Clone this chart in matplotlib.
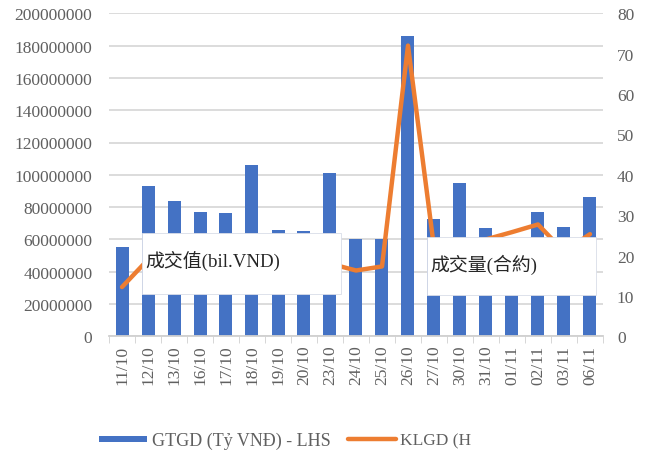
import matplotlib
matplotlib.use("Agg")
import matplotlib.pyplot as plt
from matplotlib.patches import Rectangle
from matplotlib.lines import Line2D
from matplotlib.ticker import FixedLocator

dates = ["11/10", "12/10", "13/10", "16/10", "17/10", "18/10", "19/10", "20/10",
         "23/10", "24/10", "25/10", "26/10", "27/10", "30/10", "31/10", "01/11",
         "02/11", "03/11", "06/11"]
gtgd = [55e6, 93e6, 84e6, 77e6, 76.3e6, 106e6, 66e6, 65e6, 101e6, 60e6,
        60.5e6, 186e6, 72.6e6, 95e6, 67e6, 55e6, 77.2e6, 67.5e6, 86e6]
klgd = [12.2, 19, 20, 19, 18, 21, 19, 17, 18, 16.3, 17.3, 72, 22, 22, 24,
        25.8, 27.7, 21, 25.3]

blue = "#4472C4"
orange = "#ED7D31"
grey = "#606060"
serif = ["Liberation Serif", "Noto Sans CJK TC", "DejaVu Sans"]

plt.rcParams["font.family"] = serif

W, H = 646, 456
fig = plt.figure(figsize=(W / 100, H / 100), dpi=100)
ax = fig.add_axes([109 / W, 1 - 337.3 / H, 494 / W, 323 / H])
ax2 = ax.twinx()

x = list(range(len(dates)))
ax.bar(x, gtgd, width=0.5, color=blue, zorder=2)
ax.set_ylim(0, 200e6)
ax.set_yticks(range(0, 200000001, 20000000))
ax.set_yticklabels([str(v) for v in range(0, 200000001, 20000000)])
ax.set_xlim(-0.5, len(dates) - 0.5)
ax.set_xticks(x)
ax.set_xticklabels(dates, rotation=90)
ax.xaxis.set_minor_locator(FixedLocator([i - 0.5 for i in range(len(dates) + 1)]))
ax.tick_params(axis="x", which="major", length=0, pad=6, labelsize=12.5, labelcolor=grey)
ax.tick_params(axis="x", which="minor", length=5, color="#d0d0d0")
ax.tick_params(axis="y", length=0, pad=12, labelsize=12.5, labelcolor=grey)
ax.grid(axis="y", color="#d9d9d9", linewidth=1.3, zorder=0)
ax.set_axisbelow(True)
for s in ["top", "right", "left"]:
    ax.spines[s].set_visible(False)
ax.spines["bottom"].set_color("#d0d0d0")
ax.spines["bottom"].set_linewidth(1.3)

ax2.plot(x, klgd, color=orange, linewidth=3.2, solid_capstyle="round",
         solid_joinstyle="round", zorder=3)
ax2.set_ylim(0, 80)
ax2.set_yticks(range(0, 81, 10))
ax2.tick_params(axis="y", length=0, pad=10, labelsize=12.5, labelcolor=grey)
for s in ["top", "right", "left", "bottom"]:
    ax2.spines[s].set_visible(False)

# white label boxes covering the plot
for (x0, y0, x1, y1), label in [((142, 234, 341, 295), "成交值(bil.VND)"),
                                ((427, 238, 596, 296), "成交量(合約)")]:
    fig.patches.append(Rectangle((x0 / W, 1 - y1 / H), (x1 - x0) / W, (y1 - y0) / H,
                                 transform=fig.transFigure, facecolor="white",
                                 edgecolor="#d8dde8", linewidth=0.6, zorder=5))
    fig.text((x0 + 3) / W, 1 - (y0 + 27) / H, label, fontsize=13.6, color="#262626",
             va="center", ha="left", zorder=6)

# legend (cut off on the right)
fig.patches.append(Rectangle((99 / W, 1 - 443 / H), 48 / W, 6 / H,
                             transform=fig.transFigure, facecolor=blue, zorder=5))
fig.text(152 / W, 1 - 441 / H, "GTGD (Tỷ VNĐ) - LHS", fontsize=13, color=grey,
         va="center", ha="left")
fig.lines.append(Line2D([348 / W, 396 / W], [1 - 440 / H, 1 - 440 / H],
                        transform=fig.transFigure, color=orange, linewidth=3.2,
                        solid_capstyle="round"))
fig.text(400 / W, 1 - 441 / H, "KLGD (H", fontsize=12.5, color=grey,
         va="center", ha="left")

fig.savefig("out.png", dpi=100)
